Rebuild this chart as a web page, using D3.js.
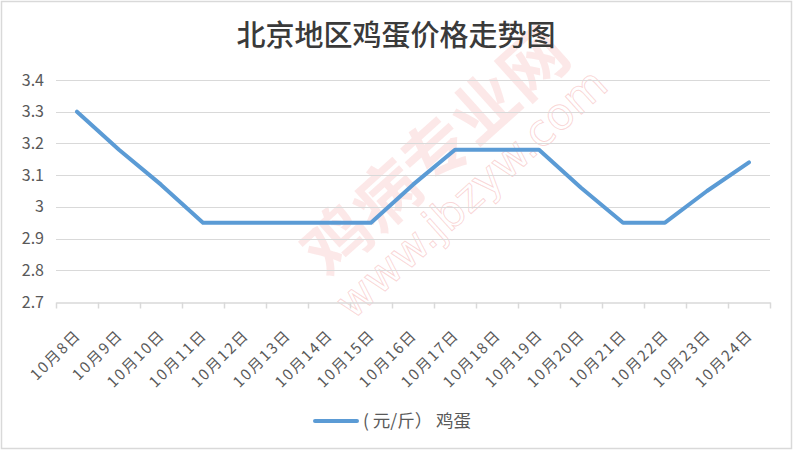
<!DOCTYPE html>
<html><head><meta charset="utf-8">
<script src="https://cdn.jsdelivr.net/npm/d3@7/dist/d3.min.js"></script>
<style>body{margin:0;background:#fff}svg{display:block}</style>
</head><body>
<svg id="c" width="794" height="452"></svg>
<script>
const categories = ["10月8日","10月9日","10月10日","10月11日","10月12日","10月13日","10月14日","10月15日","10月16日","10月17日","10月18日","10月19日","10月20日","10月21日","10月22日","10月23日","10月24日"];
const eggPrice = [3.3,3.18,3.07,2.95,2.95,2.95,2.95,2.95,3.07,3.18,3.18,3.18,3.06,2.95,2.95,3.05,3.14];
const yTicks = [2.7,2.8,2.9,3,3.1,3.2,3.3,3.4];
const title = "北京地区鸡蛋价格走势图";
const legendLabel = "( 元/斤） 鸡蛋";

const svg = d3.select("#c");
const font = "'Noto Sans CJK SC','Noto Sans',sans-serif";
svg.append("rect").attr("x",1.5).attr("y",1.5).attr("width",790).attr("height",447)
  .attr("fill","#fff").attr("stroke","#d9d9d9").attr("stroke-width",1.5);

// watermark
const wm = svg.append("g").attr("pointer-events","none");
wm.append("text").attr("transform","translate(432,148) rotate(-42)")
  .attr("text-anchor","middle").attr("dominant-baseline","central")
  .attr("font-family",font).attr("font-weight","bold").attr("font-size",66)
  .attr("fill","rgba(238,100,100,0.15)").text("鸡病专业网");
wm.append("text").attr("transform","translate(471,193) rotate(-42)")
  .attr("text-anchor","middle").attr("dominant-baseline","central")
  .attr("font-family","'DejaVu Sans',sans-serif").attr("font-size",44)
  .attr("fill","none").attr("stroke","rgba(235,110,110,0.28)").attr("stroke-width",1).text("www.jbzyw.com");

const x = d3.scaleBand().domain(categories).range([56,770]).padding(0);
const y = d3.scaleLinear().domain([2.7,3.4]).range([302,80]);

// gridlines
svg.append("g").selectAll("line").data(yTicks.filter(d=>d!==2.7)).join("line")
  .attr("x1",56).attr("x2",770).attr("y1",d=>Math.round(y(d))+0.5).attr("y2",d=>Math.round(y(d))+0.5)
  .attr("stroke","#d9d9d9").attr("stroke-width",1);

// x axis
const xa = svg.append("g").attr("transform",`translate(0,${Math.round(y(2.7))+0.5})`)
  .call(d3.axisBottom(x).tickSize(0).tickFormat(""));
xa.select(".domain").attr("stroke","#d9d9d9").attr("stroke-width",1.5);
const bounds = categories.map(c=>x(c)).concat([x.range()[1]]);
xa.selectAll(".tb").data(bounds).join("line").attr("class","tb")
  .attr("x1",d=>Math.round(d)+0.5).attr("x2",d=>Math.round(d)+0.5).attr("y1",0).attr("y2",6)
  .attr("stroke","#d9d9d9").attr("stroke-width",1.5);
svg.append("g").selectAll("text").data(categories).join("text")
  .attr("transform",d=>`translate(${x(d)+x.bandwidth()/2+5},336) rotate(-45)`)
  .attr("text-anchor","end").attr("font-family",font).attr("font-size",15)
  .attr("letter-spacing",1.8).attr("fill","#595959").text(d=>d);

// y axis labels
const ya = svg.append("g").attr("transform","translate(44,0)")
  .call(d3.axisLeft(y).tickValues(yTicks).tickSize(0).tickPadding(0).tickFormat(d=>d3.format("")(+d.toFixed(1))));
ya.select(".domain").remove();
ya.selectAll("text").attr("font-family",font).attr("font-size",16).attr("fill","#595959");

// line
const line = d3.line().x((d,i)=>x(categories[i])+x.bandwidth()/2).y(d=>y(d));
svg.append("path").datum(eggPrice).attr("d",line).attr("fill","none")
  .attr("stroke","#5b9bd5").attr("stroke-width",4).attr("stroke-linejoin","round").attr("stroke-linecap","round");

// title
svg.append("text").attr("x",396).attr("y",46).attr("text-anchor","middle")
  .attr("font-family",font).attr("font-size",29).attr("font-weight",500).attr("fill","#3a3a3a").text(title);

// legend
svg.append("line").attr("x1",315).attr("x2",357).attr("y1",421).attr("y2",421)
  .attr("stroke","#5b9bd5").attr("stroke-width",4).attr("stroke-linecap","round");
svg.append("text").attr("x",363).attr("y",427).attr("font-family",font).attr("font-size",17.5)
  .attr("fill","#595959").text(legendLabel);
</script>
</body></html>
